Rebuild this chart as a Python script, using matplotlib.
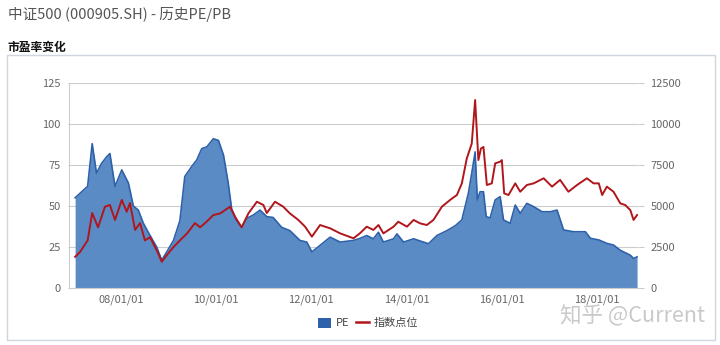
import matplotlib
matplotlib.use('Agg')
import matplotlib.pyplot as plt
import matplotlib.dates as mdates
from matplotlib.patches import Rectangle, FancyBboxPatch
from matplotlib.lines import Line2D
import pandas as pd

plt.rcParams['font.family'] = ['Noto Sans CJK SC', 'DejaVu Sans']

# PE series
pe_dates = ['2007-01-14', '2007-04-20', '2007-05-25', '2007-06-27', '2007-08-05', '2007-09-13',
            '2007-10-08', '2007-11-16', '2008-01-07', '2008-02-27', '2008-04-05', '2008-05-13',
            '2008-06-20', '2008-07-28', '2008-10-01', '2008-11-09', '2008-12-17', '2009-02-07',
            '2009-03-28', '2009-05-05', '2009-06-26', '2009-08-04', '2009-09-12', '2009-10-20',
            '2009-12-10', '2010-01-18', '2010-02-26', '2010-04-03', '2010-04-30', '2010-06-07',
            '2010-07-15', '2010-08-23', '2010-10-13', '2010-12-03', '2011-01-24', '2011-03-14',
            '2011-05-18', '2011-07-20', '2011-10-06', '2011-11-27', '2012-01-05', '2012-03-08',
            '2012-05-24', '2012-08-09', '2012-11-20', '2013-01-10', '2013-03-01', '2013-04-21',
            '2013-05-30', '2013-07-07', '2013-09-23', '2013-10-19', '2013-12-09', '2014-02-24',
            '2014-05-10', '2014-06-18', '2014-08-22', '2014-11-07', '2015-01-10', '2015-03-01',
            '2015-04-20', '2015-05-16', '2015-06-11', '2015-06-28', '2015-07-19', '2015-08-14',
            '2015-09-04', '2015-10-04', '2015-11-12', '2015-12-20', '2016-01-15', '2016-03-06',
            '2016-04-14', '2016-05-22', '2016-07-12', '2016-09-02', '2016-11-06', '2017-01-09',
            '2017-03-01', '2017-04-20', '2017-07-05', '2017-10-04', '2017-11-12', '2018-01-15',
            '2018-03-18', '2018-05-08', '2018-06-29', '2018-09-14', '2018-10-09', '2018-11-05']
pe_values = [55, 62, 88, 70, 76, 80,
             82, 62, 72, 64, 50, 47.5,
             39.6, 34, 25, 17, 22, 29,
             41, 68, 74, 78, 85, 86,
             91, 90, 81, 64, 48, 41,
             37, 42.5, 44.5, 47.5, 43.5, 43,
             37, 35, 29, 28, 22, 26,
             31, 28, 29, 30.3, 32, 30,
             34, 28, 30, 33, 28, 30,
             28, 27, 32, 35, 38, 41.5,
             57.7, 70, 83, 53.7, 58.7, 58.7,
             43.5, 42.7, 53.7, 55.7, 41.5, 39.4,
             50.6, 45.5, 51.6, 49.6, 46.5, 46.5,
             47.5, 35.4, 34.3, 34.3, 30.3, 29.3,
             27.2, 26.2, 23, 20, 18, 19]

# index level series
idx_dates = ['2007-01-14', '2007-02-21', '2007-04-20', '2007-05-25', '2007-07-09', '2007-08-31',
             '2007-10-08', '2007-11-16', '2008-01-07', '2008-02-14', '2008-03-10', '2008-04-18',
             '2008-05-26', '2008-07-03', '2008-08-11', '2008-10-01', '2008-11-09', '2008-12-17',
             '2009-02-07', '2009-03-28', '2009-05-19', '2009-07-22', '2009-08-30', '2009-10-20',
             '2009-12-10', '2010-02-01', '2010-04-17', '2010-05-25', '2010-07-15', '2010-09-05',
             '2010-11-09', '2010-12-29', '2011-01-24', '2011-03-28', '2011-05-30', '2011-07-20',
             '2011-09-23', '2011-11-14', '2012-01-05', '2012-03-08', '2012-05-24', '2012-08-09',
             '2012-11-20', '2013-01-10', '2013-03-01', '2013-04-21', '2013-05-30', '2013-07-07',
             '2013-09-23', '2013-10-29', '2014-01-04', '2014-02-24', '2014-04-15', '2014-06-05',
             '2014-07-26', '2014-09-29', '2014-12-01', '2015-01-22', '2015-03-01', '2015-04-08',
             '2015-05-16', '2015-06-11', '2015-07-06', '2015-07-25', '2015-08-14', '2015-09-09',
             '2015-10-17', '2015-11-12', '2015-12-20', '2016-01-02', '2016-01-20', '2016-02-22',
             '2016-04-14', '2016-05-22', '2016-07-12', '2016-09-02', '2016-11-18', '2017-01-21',
             '2017-03-24', '2017-05-27', '2017-08-01', '2017-10-16', '2017-12-06', '2018-01-15',
             '2018-02-10', '2018-03-18', '2018-05-08', '2018-06-29', '2018-08-06', '2018-09-14',
             '2018-10-09', '2018-11-05']
idx_values = [1900, 2200, 2900, 4570, 3700, 4960,
              5060, 4150, 5370, 4650, 5180, 3540,
              3960, 2900, 3100, 2300, 1600, 2000,
              2500, 2900, 3300, 3960, 3700, 4050,
              4450, 4550, 4960, 4350, 3700, 4550,
              5260, 5060, 4570, 5260, 4960, 4550,
              4150, 3740, 3130, 3840, 3640, 3330,
              3030, 3350, 3740, 3540, 3840, 3330,
              3740, 4040, 3740, 4150, 3940, 3840,
              4150, 4960, 5370, 5670, 6380, 7900,
              8800, 11460, 7800, 8500, 8600, 6280,
              6380, 7600, 7700, 7800, 5770, 5670,
              6380, 5870, 6280, 6380, 6690, 6180,
              6590, 5870, 6280, 6690, 6380, 6380,
              5670, 6180, 5870, 5160, 5060, 4750,
              4150, 4450]

pe_x = pd.to_datetime(pe_dates)
idx_x = pd.to_datetime(idx_dates)

fig = plt.figure(figsize=(7.2, 3.45), dpi=100)
fig.patch.set_facecolor('white')

# page header + panel box
fig.text(8 / 720, 1 - 15 / 345, '中证500 (000905.SH) - 历史PE/PB', fontsize=10.5,
         color='#555555', va='center', ha='left')
fig.text(8 / 720, 1 - 47 / 345, '市盈率变化', fontsize=8.5, fontweight='bold',
         color='#111111', va='center', ha='left')
fig.patches.append(Rectangle((7 / 720, 1 - 340 / 345), 708 / 720, 285 / 345,
                             transform=fig.transFigure, fill=False,
                             edgecolor='#cfd6de', linewidth=1))

ax = fig.add_axes([69 / 720, 1 - 288 / 345, 569 / 720, 205 / 345])
ax2 = ax.twinx()

ax.fill_between(pe_x, pe_values, 0, color='#5b8bc5', linewidth=0)
ax.plot(pe_x, pe_values, color='#2d61aa', linewidth=1.2)
ax2.plot(idx_x, idx_values, color='#b0161c', linewidth=1.4)

ax.set_ylim(0, 125)
ax.set_yticks([0, 25, 50, 75, 100, 125])
ax2.set_ylim(0, 12500)
ax2.set_yticks([0, 2500, 5000, 7500, 10000, 12500])
ax.set_xlim(pd.Timestamp('2006-11-28'), pd.Timestamp('2018-11-12'))
ax.xaxis.set_major_locator(mdates.YearLocator(2))
ax.xaxis.set_major_formatter(mdates.DateFormatter('%y/%m/%d'))

ax.set_axisbelow(True)
ax.grid(axis='y', color='#cccccc', linewidth=0.8)
ax.grid(axis='x', visible=False)

for a in (ax, ax2):
    for s in ['top', 'right', 'left', 'bottom']:
        a.spines[s].set_visible(False)
ax.spines['left'].set_visible(True)
ax.spines['left'].set_color('#cccccc')
ax.spines['bottom'].set_visible(True)
ax.spines['bottom'].set_color('#cccccc')

ax.tick_params(axis='y', length=1, color='#cccccc', labelsize=8, labelcolor='#666666', pad=5)
ax.tick_params(axis='x', length=0, labelsize=8, labelcolor='#666666', pad=5)
ax2.tick_params(axis='y', length=4, color='#cccccc', labelsize=8, labelcolor='#666666', pad=5)

# legend
handles = [FancyBboxPatch((0, 0), 1, 1, boxstyle='round,pad=0.1', facecolor='#2d61aa', edgecolor='none'),
           Line2D([0], [0], color='#b0161c', linewidth=1.8)]
leg = fig.legend(handles, ['PE', '指数点位'], loc='center', bbox_to_anchor=(368 / 720, 1 - 323 / 345),
                 ncol=2, frameon=False, fontsize=8, handlelength=1.2, handleheight=1.0,
                 columnspacing=0.6, handletextpad=0.4, labelcolor='#444444')

# watermark
fig.text(632 / 720, 1 - 316 / 345, '知乎 @Current', fontsize=15.5, color='#c4c4c4',
         ha='center', va='center', alpha=0.9)

fig.savefig('out.png', dpi=100)
